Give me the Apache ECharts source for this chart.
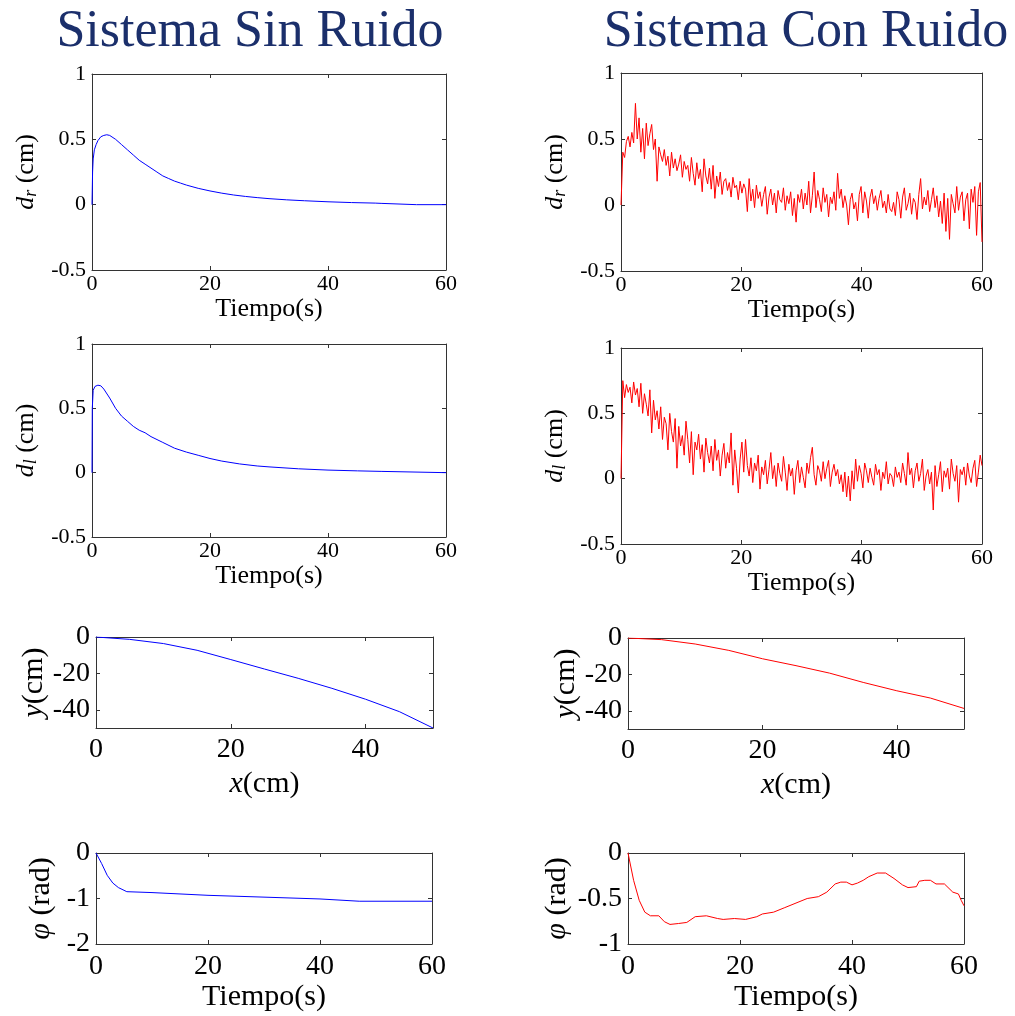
<!DOCTYPE html>
<html>
<head>
<meta charset="utf-8">
<script src="https://cdn.jsdelivr.net/npm/echarts@6/dist/echarts.min.js"></script>
<style>
  html, body { margin: 0; padding: 0; background: #fff; }
  #chart { width: 1015px; height: 1016px; }
</style>
</head>
<body>
<div id="chart"></div>
<script>
// ---- Data ----
const titles = ['Sistema Sin Ruido', 'Sistema Con Ruido'];

// Clean system: wheel displacement d_r (cm) over time (s)
const drCleanT = [0, 0.1, 0.2, 0.4, 0.7, 1, 1.5, 2, 2.5, 3, 4, 5, 6, 7, 8, 9, 10, 11, 12, 13, 14, 15, 16, 18, 20, 22, 24, 26, 28, 30, 33, 36, 40, 44, 48, 49, 49.1, 55, 60];
const drCleanV = [0, 0.25, 0.35, 0.42, 0.46, 0.49, 0.52, 0.53, 0.535, 0.53, 0.5, 0.46, 0.42, 0.38, 0.34, 0.31, 0.28, 0.25, 0.22, 0.2, 0.18, 0.165, 0.15, 0.125, 0.105, 0.088, 0.074, 0.063, 0.054, 0.046, 0.037, 0.03, 0.022, 0.016, 0.012, 0.01, 0, 0, 0];

// Clean system: wheel displacement d_l (cm)
const dlCleanT = [0, 0.05, 0.2, 0.5, 1, 1.5, 2, 3, 4, 5, 6, 7, 8, 9, 10, 12, 14, 16, 18, 20, 22, 25, 28, 30, 35, 40, 45, 49, 49.1, 60];
const dlCleanV = [0, 0.5, 0.64, 0.67, 0.68, 0.675, 0.65, 0.58, 0.5, 0.44, 0.4, 0.36, 0.33, 0.31, 0.28, 0.235, 0.19, 0.16, 0.135, 0.11, 0.09, 0.068, 0.052, 0.045, 0.03, 0.02, 0.014, 0.01, 0, 0];

// Clean system: trajectory y (cm) against x (cm)
const pathCleanX = [0, 5, 10, 15, 20, 25, 30, 35, 40, 45, 50];
const pathCleanY = [0, -1.3, -3.6, -7.3, -12.4, -17.6, -22.7, -28.2, -34.2, -41, -50];

// Clean system: heading phi (rad)
const phiCleanT = [0, 1, 2, 3, 4, 5, 5.5, 10, 20, 30, 40, 47, 60];
const phiCleanV = [0, -0.23, -0.49, -0.66, -0.76, -0.82, -0.85, -0.87, -0.93, -0.97, -1.01, -1.06, -1.06];

// Noisy system: sampled every 0.3 s from 0 to 60 s
const noisyStep = 0.3;
const drNoisy = [
  0, 0.40, 0.36, 0.48, 0.52, 0.44, 0.55, 0.47, 0.77, 0.50,
  0.66, 0.40, 0.58, 0.35, 0.62, 0.45, 0.54, 0.61, 0.42, 0.50,
  0.18, 0.44, 0.38, 0.33, 0.42, 0.30, 0.37, 0.22, 0.40, 0.28,
  0.35, 0.26, 0.31, 0.38, 0.21, 0.33, 0.27, 0.30, 0.18, 0.36,
  0.24, 0.15, 0.32, 0.20, 0.27, 0.10, 0.35, 0.22, 0.16, 0.28,
  0.12, 0.30, 0.05, 0.22, 0.14, 0.25, 0.08, 0.18, 0.20, 0.11,
  0.17, 0.06, 0.21, 0.13, 0.15, 0.04, 0.18, 0.09, 0.16, 0.12,
  -0.05, 0.20, 0.03, 0.12, -0.02, 0.15, 0.05, 0.10, -0.01, 0.08,
  0.14, -0.07, 0.06, 0.12, 0.00, 0.09, -0.06, 0.11, 0.04, 0.02,
  0.13, -0.04, 0.07, 0.01, 0.10, -0.08, 0.05, -0.13, 0.08, 0.02,
  0.12, -0.03, 0.09, 0.00, 0.18, -0.06, 0.07, 0.25, -0.02, 0.11,
  0.04, -0.05, 0.13, 0.02, 0.08, -0.09, 0.06, 0.01, 0.10, -0.04,
  0.24, 0.05, 0.12, -0.02, 0.07, 0.00, -0.15, 0.04, 0.09, -0.03,
  0.02, -0.12, 0.08, 0.14, -0.06, 0.10, 0.03, -0.10, 0.06, 0.12,
  0.01, 0.07, -0.04, 0.05, 0.11, -0.02, 0.03, -0.06, 0.08, -0.03,
  -0.05, 0.02, -0.08, 0.10, 0.04, -0.10, 0.06, 0.13, -0.04, 0.01,
  0.09, -0.07, 0.05, 0.02, -0.11, 0.08, 0.20, -0.03, 0.06, 0.00,
  0.11, -0.05, 0.04, 0.13, -0.02, 0.07, -0.09, 0.03, -0.14, 0.09,
  -0.20, 0.05, -0.26, 0.08, 0.01, -0.06, 0.14, -0.04, 0.06, 0.10,
  -0.12, 0.04, 0.09, -0.18, 0.12, 0.02, 0.14, -0.23, 0.10, 0.17,
  -0.28
];
const dlNoisy = [
  0, 0.75, 0.62, 0.72, 0.66, 0.70, 0.58, 0.74, 0.64, 0.69,
  0.55, 0.73, 0.50, 0.65, 0.57, 0.48, 0.68, 0.35, 0.60, 0.45,
  0.52, 0.38, 0.55, 0.30, 0.47, 0.42, 0.22, 0.50, 0.36, 0.28,
  0.46, 0.08, 0.40, 0.25, 0.33, 0.18, 0.44, 0.30, 0.12, 0.36,
  0.03, 0.28, 0.22, 0.34, 0.15, 0.26, 0.05, 0.31, 0.20, 0.12,
  0.25, 0.06, 0.30, 0.14, 0.22, 0.02, 0.18, 0.27, 0.08, 0.20,
  0.12, 0.35, -0.05, 0.22, 0.08, -0.11, 0.15, 0.28, 0.05, 0.30,
  0.10, 0.02, 0.16, -0.03, 0.12, 0.06, 0.18, -0.08, 0.09, 0.03,
  0.14, -0.04, 0.07, 0.20, 0.00, 0.10, -0.06, 0.12, 0.04, -0.02,
  0.17, 0.05, -0.09, 0.11, 0.02, 0.08, -0.12, 0.06, 0.14, -0.03,
  0.09, 0.01, -0.07, 0.12, 0.04, 0.16, 0.24, 0.03, -0.05, 0.10,
  0.06, -0.02, 0.13, 0.00, 0.08, 0.14, -0.06, 0.05, 0.11, 0.02,
  0.07, -0.04, 0.03, -0.10, 0.05, -0.14, 0.02, -0.17, 0.06, -0.08,
  0.15, -0.02, 0.10, 0.04, -0.07, 0.12, 0.06, -0.03, 0.08, 0.01,
  -0.05, 0.11, 0.03, 0.07, -0.09, 0.05, 0.00, 0.13, -0.04, 0.04,
  0.02, -0.06, 0.09, 0.01, 0.05, -0.03, 0.12, 0.04, -0.05, 0.20,
  0.03, 0.08, -0.07, 0.06, 0.12, -0.02, 0.04, 0.15, -0.09, 0.02,
  0.07, -0.04, 0.05, -0.24, 0.10, -0.06, 0.03, 0.13, -0.10, 0.06,
  0.01, 0.08, -0.08, 0.15, 0.04, -0.02, 0.10, -0.18, 0.07, 0.03,
  0.09, -0.05, 0.12, 0.02, -0.03, 0.08, 0.14, -0.06, 0.05, 0.18,
  0.10
];

// Noisy system: trajectory y (cm) against x (cm)
const pathNoisyX = [0, 5, 10, 15, 20, 25, 30, 35, 40, 45, 50];
const pathNoisyY = [0, -0.9, -3.3, -6.8, -11.4, -15.2, -19.3, -24.4, -29, -33, -38.7];

// Noisy system: heading phi (rad)
const phiNoisyT = [0, 1, 2, 3, 4, 5.5, 6.5, 7.5, 9, 10.5, 12, 14, 16, 17, 19, 21, 23, 24, 26, 28, 30, 32, 34, 35.5, 37, 38, 39, 40, 41, 42, 43, 44.5, 46, 47.5, 49, 50, 51.5, 52, 53, 54, 55, 56.5, 58, 59, 59.5, 60];
const phiNoisyV = [0, -0.3, -0.52, -0.65, -0.69, -0.69, -0.755, -0.785, -0.775, -0.763, -0.70, -0.69, -0.72, -0.73, -0.72, -0.73, -0.70, -0.67, -0.65, -0.60, -0.55, -0.50, -0.48, -0.43, -0.34, -0.32, -0.32, -0.35, -0.33, -0.30, -0.26, -0.22, -0.22, -0.28, -0.35, -0.38, -0.37, -0.31, -0.30, -0.30, -0.34, -0.34, -0.43, -0.45, -0.52, -0.58];

// Tick values
const dTicks = [-0.5, 0, 0.5, 1];
const timeTicks = [0, 20, 40, 60];
const pathXTicks = [0, 20, 40];
const pathYTicks = [-40, -20, 0];
const phiCleanTicks = [-2, -1, 0];
const phiNoisyTicks = [-1, -0.5, 0];

// ---- Helpers ----
const FONT = '"Liberation Serif", "DejaVu Serif", serif';
const BLUE = '#0000ff';
const RED = '#ff0000';

function pairs(xs, ys) { return xs.map((x, i) => [x, ys[i]]); }
function stepPairs(step, ys) { return ys.map((y, i) => [+(i * step).toFixed(4), y]); }

const rich = (size) => ({
  i: { fontFamily: FONT, fontStyle: 'italic', fontSize: size, color: '#000' },
  s: { fontFamily: FONT, fontStyle: 'italic', fontSize: Math.round(size * 0.7), color: '#000', padding: [Math.round(size * 0.35), 0, 0, 0] },
  n: { fontFamily: FONT, fontSize: size, color: '#000' }
});

const panels = [
  { grid: [92, 74, 354, 196], x: [0, 60, timeTicks], y: [-0.5, 1, dTicks], tick: 22, nameSize: 26, margin: 3,
    xName: '{n|Tiempo(s)}', yName: '{i|d}{s|r}{n| (cm)}', xGap: 24, yGap: 52, color: BLUE, data: pairs(drCleanT, drCleanV) },
  { grid: [621, 73, 361, 198], x: [0, 60, timeTicks], y: [-0.5, 1, dTicks], tick: 22, nameSize: 26, margin: 3,
    xName: '{n|Tiempo(s)}', yName: '{i|d}{s|r}{n| (cm)}', xGap: 24, yGap: 52, color: RED, data: stepPairs(noisyStep, drNoisy) },
  { grid: [92, 344, 354, 193], x: [0, 60, timeTicks], y: [-0.5, 1, dTicks], tick: 22, nameSize: 26, margin: 3,
    xName: '{n|Tiempo(s)}', yName: '{i|d}{s|l}{n| (cm)}', xGap: 24, yGap: 52, color: BLUE, data: pairs(dlCleanT, dlCleanV) },
  { grid: [621, 348, 361, 196], x: [0, 60, timeTicks], y: [-0.5, 1, dTicks], tick: 22, nameSize: 26, margin: 3,
    xName: '{n|Tiempo(s)}', yName: '{i|d}{s|l}{n| (cm)}', xGap: 24, yGap: 52, color: RED, data: stepPairs(noisyStep, dlNoisy) },
  { grid: [96, 637, 337, 91], x: [0, 50, pathXTicks], y: [-50, 0, pathYTicks], tick: 28, nameSize: 30, margin: 8,
    xName: '{i|x}{n|(cm)}', yName: '{i|y}{n|(cm)}', xGap: 41, yGap: 42, color: BLUE, data: pairs(pathCleanX, pathCleanY) },
  { grid: [628, 638, 336, 91], x: [0, 50, pathXTicks], y: [-50, 0, pathYTicks], tick: 28, nameSize: 30, margin: 8,
    xName: '{i|x}{n|(cm)}', yName: '{i|y}{n|(cm)}', xGap: 41, yGap: 42, color: RED, data: pairs(pathNoisyX, pathNoisyY) },
  { grid: [96, 853, 336, 91], x: [0, 60, timeTicks], y: [-2, 0, phiCleanTicks], tick: 28, nameSize: 30, margin: 9,
    xName: '{n|Tiempo(s)}', yName: '{i|\u03C6}{n| (rad)}', xGap: 34, yGap: 40, color: BLUE, data: pairs(phiCleanT, phiCleanV) },
  { grid: [628, 853, 336, 91], x: [0, 60, timeTicks], y: [-1, 0, phiNoisyTicks], tick: 28, nameSize: 30, margin: 9,
    xName: '{n|Tiempo(s)}', yName: '{i|\u03C6}{n| (rad)}', xGap: 34, yGap: 56, color: RED, data: pairs(phiNoisyT, phiNoisyV) }
];

const AXIS_COLOR = '#333';
const grids = [], xAxes = [], yAxes = [], series = [];

panels.forEach((p, k) => {
  grids.push({ left: p.grid[0], top: p.grid[1], width: p.grid[2], height: p.grid[3], containLabel: false });
  const lineStyle = { color: AXIS_COLOR, width: 1 };
  const label = { show: true, fontFamily: FONT, fontSize: p.tick, color: '#000' };
  // bottom x axis with labels
  xAxes.push({
    type: 'value', gridIndex: k, position: 'bottom', min: p.x[0], max: p.x[1],
    axisLine: { show: true, onZero: false, lineStyle },
    axisTick: { show: true, inside: true, length: 4, lineStyle, customValues: p.x[2] },
    axisLabel: Object.assign({}, label, { margin: p.margin, customValues: p.x[2] }),
    splitLine: { show: false },
    name: p.xName, nameLocation: 'middle', nameGap: p.xGap,
    nameTextStyle: { rich: rich(p.nameSize), verticalAlign: 'top' }
  });
  // top mirror axis (box edge)
  xAxes.push({
    type: 'value', gridIndex: k, position: 'top', min: p.x[0], max: p.x[1],
    axisLine: { show: true, onZero: false, lineStyle },
    axisTick: { show: true, inside: true, length: 4, lineStyle, customValues: p.x[2] },
    axisLabel: { show: false }, splitLine: { show: false }
  });
  // left y axis with labels
  yAxes.push({
    type: 'value', gridIndex: k, position: 'left', min: p.y[0], max: p.y[1],
    axisLine: { show: true, onZero: false, lineStyle },
    axisTick: { show: true, inside: true, length: 4, lineStyle, customValues: p.y[2] },
    axisLabel: Object.assign({}, label, { margin: 6, customValues: p.y[2] }),
    splitLine: { show: false },
    name: p.yName, nameLocation: 'middle', nameGap: p.yGap, nameRotate: 90,
    nameTextStyle: { rich: rich(p.nameSize) }
  });
  // right mirror axis
  yAxes.push({
    type: 'value', gridIndex: k, position: 'right', min: p.y[0], max: p.y[1],
    axisLine: { show: true, onZero: false, lineStyle },
    axisTick: { show: true, inside: true, length: 4, lineStyle, customValues: p.y[2] },
    axisLabel: { show: false }, splitLine: { show: false }
  });
  series.push({
    type: 'line', xAxisIndex: 2 * k, yAxisIndex: 2 * k, data: p.data,
    showSymbol: false, symbol: 'none', clip: true, animation: false,
    lineStyle: { color: p.color, width: 1 }
  });
});

const chart = echarts.init(document.getElementById('chart'), null, { renderer: 'canvas' });
chart.setOption({
  backgroundColor: '#fff',
  animation: false,
  grid: grids,
  xAxis: xAxes,
  yAxis: yAxes,
  series: series,
  graphic: [
    { type: 'text', x: 250, y: 6, style: { text: titles[0], font: '52px ' + FONT, fill: '#1b2f6b', textAlign: 'center' } },
    { type: 'text', x: 806, y: 6, style: { text: titles[1], font: '52px ' + FONT, fill: '#1b2f6b', textAlign: 'center' } }
  ]
});
</script>
</body>
</html>
